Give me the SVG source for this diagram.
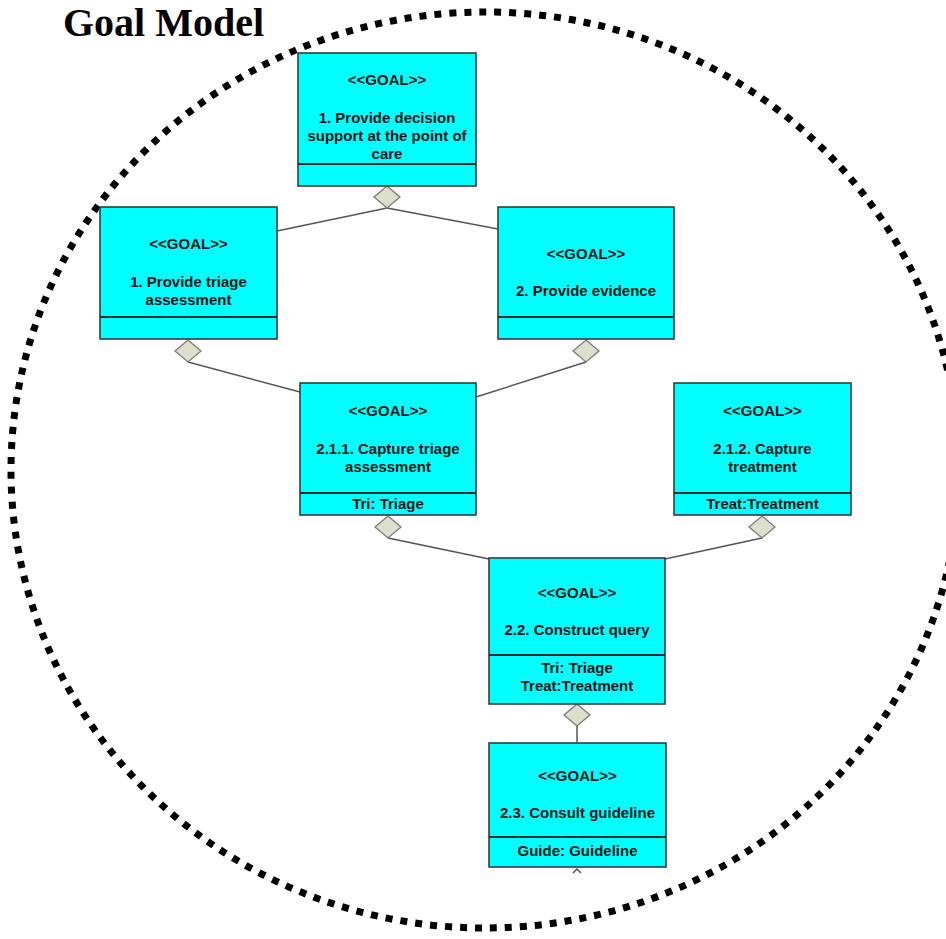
<svg xmlns="http://www.w3.org/2000/svg" width="946" height="939" viewBox="0 0 946 939">
<style>
.box{fill:#00FFFF;stroke:#3a3a3a;stroke-width:1.6}
.div{stroke:#2a2a2a;stroke-width:1.8}
.t{font-family:"Liberation Sans",Arial,sans-serif;font-weight:bold;font-size:15px;fill:#141414;text-anchor:middle}
.dm{fill:#DCDFCB;stroke:#7a7a7a;stroke-width:1.3}
.ln{stroke:#555;stroke-width:1.5;fill:none}
</style>
<defs>
<path id="dmd" d="M0,0 L13,11 L0,22 L-13,11 Z"/>
</defs>
<rect width="946" height="939" fill="#fff"/>
<text x="63" y="36" font-family="Liberation Serif,'Times New Roman',serif" font-weight="bold" font-size="40" fill="#000">Goal Model</text>
<ellipse cx="485" cy="470" rx="474" ry="458" fill="none" stroke="#000" stroke-width="7" stroke-dasharray="7 8"/>
<g id="connectors">
<line class="ln" x1="387" y1="208" x2="277" y2="231"/>
<line class="ln" x1="387" y1="208" x2="498" y2="229"/>
<line class="ln" x1="188" y1="362" x2="300" y2="392"/>
<line class="ln" x1="586" y1="362" x2="476" y2="397"/>
<line class="ln" x1="388" y1="538" x2="489" y2="559"/>
<line class="ln" x1="762" y1="538" x2="665" y2="559"/>
<line class="ln" x1="577" y1="726" x2="577" y2="743" stroke-width="2.5"/>
<path class="ln" d="M573,873 L577,869 L581,873" stroke-width="1"/>
<use href="#dmd" class="dm" x="387" y="186"/>
<use href="#dmd" class="dm" x="188" y="340"/>
<use href="#dmd" class="dm" x="586" y="340"/>
<use href="#dmd" class="dm" x="388" y="516"/>
<use href="#dmd" class="dm" x="762" y="516"/>
<use href="#dmd" class="dm" x="577" y="704"/>
</g>
<g id="goal1">
<rect class="box" x="298" y="53" width="178" height="133"/>
<line class="div" x1="298" y1="164" x2="476" y2="164"/>
<text class="t" x="387" y="85">&lt;&lt;GOAL&gt;&gt;</text>
<text class="t" x="387" y="123">1. Provide decision</text>
<text class="t" x="387" y="141">support at the point of</text>
<text class="t" x="387" y="159">care</text>
</g>
<g id="goal1b">
<rect class="box" x="100" y="207" width="177" height="132"/>
<line class="div" x1="100" y1="317" x2="277" y2="317"/>
<text class="t" x="188.5" y="249">&lt;&lt;GOAL&gt;&gt;</text>
<text class="t" x="188.5" y="287">1. Provide triage</text>
<text class="t" x="188.5" y="305">assessment</text>
</g>
<g id="goal2">
<rect class="box" x="498" y="207" width="176" height="132"/>
<line class="div" x1="498" y1="317" x2="674" y2="317"/>
<text class="t" x="586" y="259">&lt;&lt;GOAL&gt;&gt;</text>
<text class="t" x="586" y="296">2. Provide evidence</text>
</g>
<g id="goal211">
<rect class="box" x="300" y="383" width="176" height="132"/>
<line class="div" x1="300" y1="493" x2="476" y2="493"/>
<text class="t" x="388" y="416">&lt;&lt;GOAL&gt;&gt;</text>
<text class="t" x="388" y="454">2.1.1. Capture triage</text>
<text class="t" x="388" y="472">assessment</text>
<text class="t" x="388" y="509">Tri: Triage</text>
</g>
<g id="goal212">
<rect class="box" x="674" y="383" width="177" height="132"/>
<line class="div" x1="674" y1="493" x2="851" y2="493"/>
<text class="t" x="762.5" y="416">&lt;&lt;GOAL&gt;&gt;</text>
<text class="t" x="762.5" y="454">2.1.2. Capture</text>
<text class="t" x="762.5" y="472">treatment</text>
<text class="t" x="762.5" y="509">Treat:Treatment</text>
</g>
<g id="goal22">
<rect class="box" x="489" y="558" width="176" height="146"/>
<line class="div" x1="489" y1="655" x2="665" y2="655"/>
<text class="t" x="577" y="598">&lt;&lt;GOAL&gt;&gt;</text>
<text class="t" x="577" y="635">2.2. Construct query</text>
<text class="t" x="577" y="673">Tri: Triage</text>
<text class="t" x="577" y="691">Treat:Treatment</text>
</g>
<g id="goal23">
<rect class="box" x="489" y="743" width="177" height="124"/>
<line class="div" x1="489" y1="837" x2="666" y2="837"/>
<text class="t" x="577.5" y="781">&lt;&lt;GOAL&gt;&gt;</text>
<text class="t" x="577.5" y="818">2.3. Consult guideline</text>
<text class="t" x="577.5" y="856">Guide: Guideline</text>
</g>
</svg>
